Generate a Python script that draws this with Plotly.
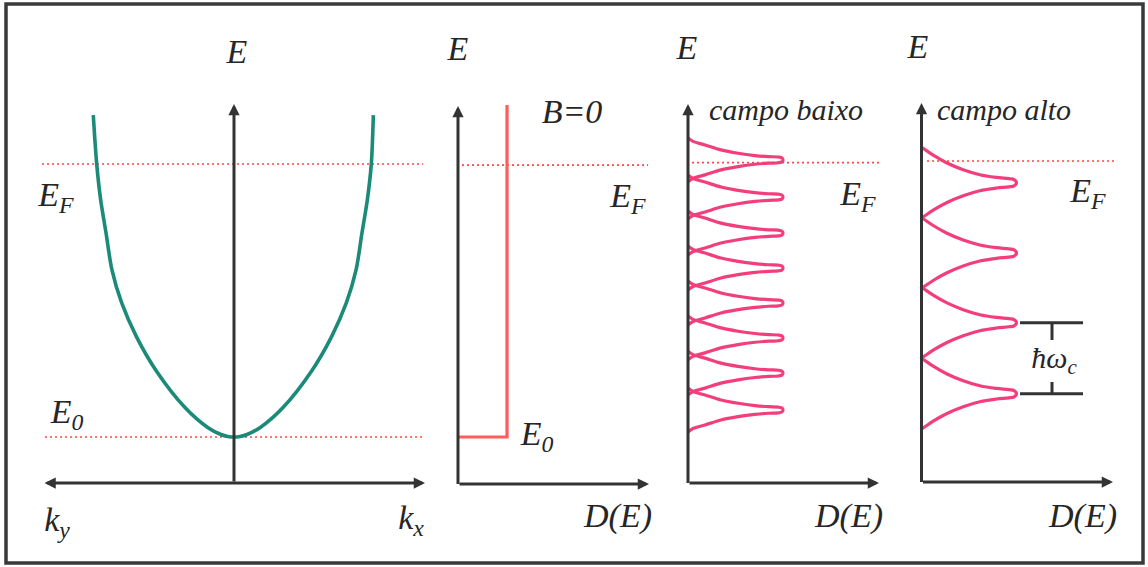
import plotly.graph_objects as go

W, H = 1148, 567

# ---------------- data ----------------
# Panel 1: parabolic dispersion, k in units of k_F, energy with E0 = 0 and EF = 1
k_disp = [-1.025, -1.0, -0.971, -0.932, -0.889, -0.818, -0.709, -0.563, -0.357, -0.189, -0.095, -0.045, 0.0,
          0.045, 0.095, 0.189, 0.357, 0.563, 0.709, 0.818, 0.889, 0.932, 0.971, 1.0, 1.015]
E_disp = [1.179, 1.0, 0.868, 0.747, 0.612, 0.491, 0.366, 0.240, 0.108, 0.034, 0.009, 0.002, 0.0,
          0.002, 0.009, 0.034, 0.108, 0.240, 0.366, 0.491, 0.612, 0.747, 0.868, 1.0, 1.179]

# Panel 2: B = 0, constant density of states above E0
D_step = [0.0, 0.516, 0.516]
E_step = [0.0, 0.0, 1.216]

# Panel 3: low field, Landau level centres and the shape of one level (upper half)
E_levels_low = [1.015, 0.879, 0.747, 0.619, 0.491, 0.363, 0.234, 0.099]
peak_low_D = [0.0, 0.053, 0.179, 0.347, 0.526, 0.705, 0.85, 0.95, 0.99, 1.0]
peak_low_dE = [0.0806, 0.0678, 0.0549, 0.0366, 0.0245, 0.0160, 0.0120, 0.0105, 0.0070, 0.0]

# Panel 4: high field, Landau level centres and the shape of one level (upper half)
E_levels_high = [0.9315, 0.674, 0.4187, 0.1586]
peak_high_D = [0.0, 0.018, 0.123, 0.263, 0.439, 0.614, 0.789, 0.92, 0.975, 1.0]
peak_high_dE = [0.129, 0.1255, 0.1007, 0.0733, 0.0476, 0.0293, 0.0194, 0.0150, 0.0115, 0.0]

# Fermi level as drawn in each panel, and the E0 level
E_fermi = [1.0, 0.996, 1.005, 1.011]
E_zero = 0.0

# label texts per panel
labels_p1 = ["E", "E<sub>F</sub>", "E<sub>0</sub>", "k<sub>y</sub>", "k<sub>x</sub>"]
labels_p2 = ["E", "B=0", "E<sub>F</sub>", "E<sub>0</sub>", "D(E)"]
labels_p3 = ["E", "campo baixo", "E<sub>F</sub>", "D(E)"]
labels_p4 = ["E", "campo alto", "E<sub>F</sub>", "D(E)", "ħω<sub>c</sub>"]

# ---------------- layout geometry (pixels of the 1148 x 567 page) ----------------
Y_E0_PX, Y_PX_PER_E = 437.0, 273.0
PANELS = {  # origin px, px per unit, domain px
    1: (234.0, 137.3, (18, 448)),
    2: (458.0, 95.0, (448, 672)),
    3: (688.0, 95.0, (672, 905)),
    4: (921.5, 95.0, (905, 1140)),
}


def ex(p, px):
    o, s, _ = PANELS[p]
    return (px - o) / s


def ey(py):
    return (Y_E0_PX - py) / Y_PX_PER_E


INK = "#262626"
AXIS = "#333333"
TEAL = "#1b8a78"
PINK = "#f23f7b"
SALMON = "#ff5d5d"
DOT = "#ff4646"
FONT = "Liberation Serif"

fig = go.Figure()


def xa(p):
    return "x" if p == 1 else f"x{p}"


def dotted(p, x0, x1, e):
    fig.add_trace(go.Scatter(x=[x0, x1], y=[e, e], mode="lines", xaxis=xa(p), yaxis="y",
                             line=dict(color=DOT, width=1.6, dash="2px,3px"),
                             hoverinfo="skip", showlegend=False))


# dotted reference levels
dotted(1, ex(1, 42), ex(1, 423), E_fermi[0])
dotted(1, ex(1, 45), ex(1, 425), E_zero)
dotted(2, ex(2, 462), ex(2, 648), E_fermi[1])
dotted(3, ex(3, 692), ex(3, 880), E_fermi[2])
dotted(4, ex(4, 927), ex(4, 1115), E_fermi[3])

# panel 1 dispersion
fig.add_trace(go.Scatter(x=k_disp, y=E_disp, mode="lines", xaxis="x", yaxis="y",
                         line=dict(color=TEAL, width=3.6, shape="spline", smoothing=0.8),
                         hoverinfo="skip", showlegend=False))

# panel 2 step
fig.add_trace(go.Scatter(x=D_step, y=E_step, mode="lines", xaxis="x2", yaxis="y",
                         line=dict(color=SALMON, width=3.2),
                         hoverinfo="skip", showlegend=False))

# panel 3 low-field Landau levels, one closed peak per level
for c in E_levels_low:
    xs = list(peak_low_D) + list(reversed(peak_low_D[:-1]))
    ys = [c + d for d in peak_low_dE] + [c - d for d in reversed(peak_low_dE[:-1])]
    fig.add_trace(go.Scatter(x=xs, y=ys, mode="lines", xaxis="x3", yaxis="y",
                             line=dict(color=PINK, width=3.2, shape="spline", smoothing=1.0),
                             hoverinfo="skip", showlegend=False))

# panel 4 high-field Landau levels, continuous curve
xs4, ys4 = [], []
for c in E_levels_high:
    xs4 += list(peak_high_D) + list(reversed(peak_high_D[:-1]))
    ys4 += [c + d for d in peak_high_dE] + [c - d for d in reversed(peak_high_dE[:-1])]
fig.add_trace(go.Scatter(x=xs4, y=ys4, mode="lines", xaxis="x4", yaxis="y",
                         line=dict(color=PINK, width=3.2, shape="spline", smoothing=1.0),
                         hoverinfo="skip", showlegend=False))

# hbar omega_c marker between the two lowest levels
bar_D = [ex(4, 1020), ex(4, 1083)]
tick_D = ex(4, 1052)
for e in E_levels_high[2:4]:
    fig.add_trace(go.Scatter(x=bar_D, y=[e, e], mode="lines", xaxis="x4", yaxis="y",
                             line=dict(color=AXIS, width=3), hoverinfo="skip", showlegend=False))
fig.add_trace(go.Scatter(x=[tick_D, tick_D], y=[E_levels_high[2], ey(340)], mode="lines",
                         xaxis="x4", yaxis="y", line=dict(color=AXIS, width=3),
                         hoverinfo="skip", showlegend=False))
fig.add_trace(go.Scatter(x=[tick_D, tick_D], y=[ey(382), E_levels_high[3]], mode="lines",
                         xaxis="x4", yaxis="y", line=dict(color=AXIS, width=3),
                         hoverinfo="skip", showlegend=False))

annotations = []


def arrow(p, x0, y0, x1, y1, both=False):
    annotations.append(dict(
        x=x1, y=y1, ax=x0, ay=y0, xref=xa(p), yref="y", axref=xa(p), ayref="y",
        text="", showarrow=True, arrowhead=2, startarrowhead=2, arrowsize=0.75,
        startarrowsize=0.75, arrowwidth=3, arrowcolor=AXIS,
        arrowside="end+start" if both else "end", standoff=0, startstandoff=0))


# axes
arrow(1, 0, ey(483), 0, ey(104))
arrow(1, ex(1, 43), ey(483), ex(1, 425), ey(483), both=True)
for p, ybot, ytop, xend in [(2, 484, 106, 649), (3, 483, 104, 879), (4, 482, 103, 1113)]:
    arrow(p, 0, ey(ybot + 1.5), 0, ey(ytop))
    arrow(p, 0, ey(ybot), ex(p, xend), ey(ybot))

# label placements (page pixels) and sizes
label_pos = {
    1: ([237, 56, 67, 57, 411], [54, 197, 414, 522, 520], [34] * 5),
    2: ([458, 572, 628, 537, 618], [51, 114, 198, 436, 518], [34] * 5),
    3: ([687, 786, 858, 849], [50, 112, 196, 518], [34, 30, 34, 34]),
    4: ([918, 1004, 1088, 1083, 1054], [49, 112, 193, 518, 360], [34, 30, 34, 34, 30]),
}
label_texts = {1: labels_p1, 2: labels_p2, 3: labels_p3, 4: labels_p4}
for p in range(1, 5):
    pxs, pys, sizes = label_pos[p]
    fig.add_trace(go.Scatter(
        x=[ex(p, v) for v in pxs], y=[ey(v) for v in pys], mode="text",
        text=["\u200b<i>" + t + "</i>" for t in label_texts[p]], textposition="middle center",
        textfont=dict(family=FONT, size=sizes, color=INK),
        xaxis=xa(p), yaxis="y", cliponaxis=False, hoverinfo="skip", showlegend=False))

layout_axes = {}
for p, (o, s, (d0, d1)) in PANELS.items():
    name = "xaxis" if p == 1 else f"xaxis{p}"
    layout_axes[name] = dict(domain=[d0 / W, d1 / W], range=[(d0 - o) / s, (d1 - o) / s],
                             visible=False, anchor="y", fixedrange=True)

fig.update_layout(
    width=W, height=H, margin=dict(l=0, r=0, t=0, b=0),
    paper_bgcolor="white", plot_bgcolor="white", showlegend=False,
    yaxis=dict(domain=[0, 1], range=[ey(H), ey(0)], visible=False, fixedrange=True),
    annotations=annotations,
    shapes=[dict(type="rect", xref="paper", yref="paper",
                 x0=6 / W, x1=1143 / W, y0=1 - 563 / H, y1=1 - 4 / H,
                 line=dict(color="#3a3a3a", width=3.5))],
    **layout_axes,
)

fig.write_html("out.html")
